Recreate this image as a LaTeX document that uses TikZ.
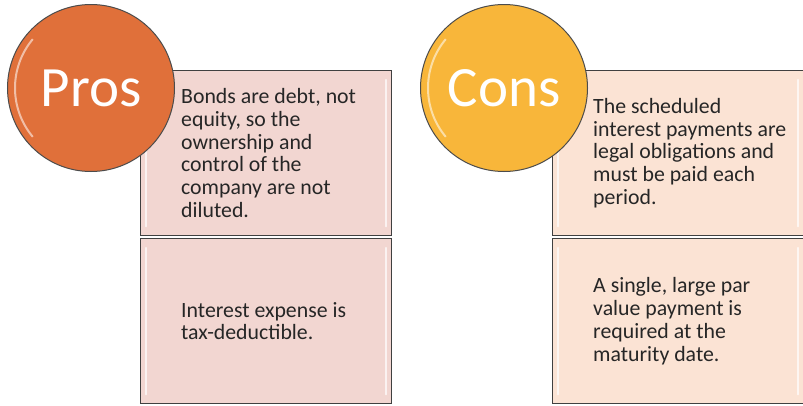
\documentclass[tikz,border=0pt]{standalone}
\usepackage{fontspec}
\setmainfont{Carlito}
\usetikzlibrary{positioning}
\definecolor{prosc}{RGB}{224,112,58}
\definecolor{consc}{RGB}{248,182,58}
\definecolor{prosbg}{RGB}{242,214,209}
\definecolor{consbg}{RGB}{251,227,212}

\begin{document}
\begin{tikzpicture}[x=1pt, y=-1pt,
    card/.style = {rectangle, draw=black!75, line width=1.2pt, minimum width=251pt, minimum height=165pt, anchor=north west},
    badge/.style = {circle, draw=black!70, line width=1pt, minimum size=167pt, inner sep=0pt, text=white, font=\fontsize{57}{60}\selectfont},
    note/.style = {align=left, inner sep=0pt, text=black!85, font=\fontsize{21.8}{22.8}\selectfont},
    shine/.style = {white, opacity=.7, line width=2.5pt, line cap=round}]
    \useasboundingbox (0,0) rectangle (803,405);
    % boxes
    \node[card, fill=prosbg] (1) at (140,70) {};
    \node[card, fill=prosbg] (2) at (140,238) {};
    \node[card, fill=consbg] (3) at (552,70) {};
    \node[card, fill=consbg] (4) at (552,238) {};
    \foreach \b in {1,2,3,4} {
        \draw[shine] ([xshift=6pt, yshift=-10pt]\b.north west) -- ([xshift=6pt, yshift=10pt]\b.south west);
        \draw[shine] ([xshift=-6pt, yshift=-10pt]\b.north east) -- ([xshift=-6pt, yshift=10pt]\b.south east);
    }
    % texts
    \node[note] (t1) [right=41pt of 1.west] {Bonds are debt, not\\equity, so the\\ownership and\\control of the\\company are not\\diluted.};
    \node[note] (t2) [right=41pt of 2.west] {Interest expense is\\tax-deductible.};
    \node[note] (t3) [right=41pt of 3.west] {The scheduled\\interest payments are\\legal obligations and\\must be paid each\\period.};
    \node[note] (t4) [right=41pt of 4.west] {A single, large par\\value payment is\\required at the\\maturity date.};
    % circles
    \node[badge, fill=prosc] (5) at (91,88) {Pros};
    \node[badge, fill=consc] (6) at (504,88) {Cons};
    \foreach \c in {5,6} {
        \draw[white, opacity=.55, line width=2pt] ([shift={(140:76)}]\c.center) arc[start angle=140, end angle=220, radius=76];
    }
\end{tikzpicture}
\end{document}
